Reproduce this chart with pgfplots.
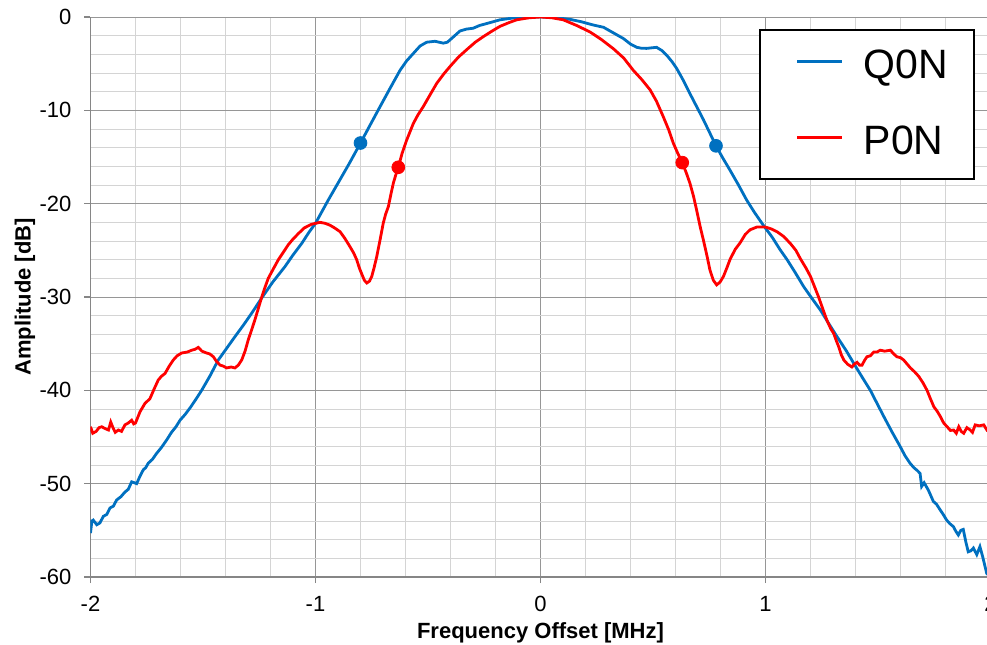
\documentclass[border=0pt]{standalone}
\usepackage{fontspec}
\setmainfont{Liberation Sans}
\usepackage{pgfplots}
\pgfplotsset{compat=1.18}

\definecolor{qblue}{RGB}{0,112,192}
\definecolor{pred}{RGB}{255,0,0}
\definecolor{axgray}{RGB}{134,134,134}
\definecolor{majgrid}{RGB}{150,150,150}
\definecolor{mingrid}{RGB}{212,212,212}

\begin{document}
\begin{tikzpicture}
\begin{axis}[
    scale only axis,
    width=450pt, height=280pt,
    xmin=-2, xmax=2, ymin=-60, ymax=0,
    xtick={-2,-1,0,1,2},
    ytick={-60,-50,-40,-30,-20,-10,0},
    minor x tick num=4,
    minor y tick num=4,
    grid=both,
    major grid style={draw=majgrid, line width=0.5pt},
    minor grid style={draw=mingrid, line width=0.5pt},
    axis x line*=bottom,
    axis y line*=left,
    axis line style={-, draw=axgray, line width=0.6pt},
    tick style={draw=axgray, line width=0.6pt},
    tick align=outside,
    major tick length=3pt,
    minor tick length=0pt,
    /pgf/number format/assume math mode=true,
    tick label style={font=\fontsize{11}{13}\selectfont},
    yticklabel style={xshift=-3pt},
    xticklabel style={yshift=-3pt},
    xlabel={Frequency Offset [MHz]},
    ylabel={Amplitude [dB]},
    label style={font=\fontsize{11}{13}\selectfont\bfseries},
    xlabel style={at={(axis description cs:0.5,0)}, anchor=center, yshift=-28pt},
    ylabel style={at={(axis description cs:0,0.5)}, anchor=center, yshift=32.75pt},
    legend cell align=left,
    legend style={at={(rel axis cs:0.7428,0.9786)}, anchor=north west,
        draw=black, line width=0.9pt, fill=white,
        inner xsep=13pt, inner ysep=6.25pt,
        column sep=10pt, row sep=14pt,
        cells={anchor=base west},
        nodes={inner sep=0pt, text height=18.25pt, text depth=5.75pt},
        font=\fontsize{20.5}{24}\selectfont},
    legend image code/.code={\path (0pt,0pt); \draw[#1, line width=1.4pt] (5pt,8.5pt) -- (27.5pt,8.5pt);},
]
% Q0N
\addplot[qblue, line width=1.4pt] coordinates {
(-2.000,-55.3) (-1.994,-54.0) (-1.988,-53.9) (-1.972,-54.4) (-1.958,-54.2) (-1.943,-53.5)
(-1.928,-53.3) (-1.913,-52.6) (-1.898,-52.4) (-1.884,-51.75) (-1.865,-51.4) (-1.847,-50.9)
(-1.832,-50.6) (-1.817,-49.8) (-1.805,-49.9) (-1.795,-50.0) (-1.780,-49.2) (-1.765,-48.5)
(-1.755,-48.3) (-1.743,-47.8) (-1.725,-47.4) (-1.706,-46.75) (-1.684,-46.1) (-1.661,-45.3)
(-1.640,-44.5) (-1.620,-43.9) (-1.602,-43.2) (-1.580,-42.6) (-1.555,-41.8) (-1.530,-40.9)
(-1.506,-40.0) (-1.470,-38.5) (-1.432,-36.75) (-1.395,-35.5) (-1.358,-34.25) (-1.320,-33.0)
(-1.284,-31.75) (-1.239,-30.1) (-1.190,-28.4) (-1.136,-26.75) (-1.100,-25.5) (-1.061,-24.25)
(-1.030,-23.1) (-1.000,-22.1) (-0.943,-19.6) (-0.900,-17.8) (-0.850,-15.7) (-0.800,-13.5)
(-0.760,-11.7) (-0.713,-9.6) (-0.670,-7.7) (-0.624,-5.7) (-0.595,-4.7) (-0.565,-3.9)
(-0.535,-3.1) (-0.506,-2.7) (-0.469,-2.6) (-0.432,-2.8) (-0.414,-2.7) (-0.395,-2.3)
(-0.358,-1.5) (-0.330,-1.3) (-0.299,-1.2) (-0.270,-0.9) (-0.239,-0.7) (-0.180,-0.3)
(-0.106,-0.05) (0,0) (0.060,-0.05) (0.131,-0.25) (0.180,-0.5) (0.235,-0.86) (0.280,-1.1)
(0.324,-1.7) (0.368,-2.3) (0.400,-2.9) (0.428,-3.25) (0.450,-3.35) (0.472,-3.36) (0.495,-3.3)
(0.516,-3.25) (0.540,-3.6) (0.561,-4.1) (0.585,-4.8) (0.605,-5.5) (0.635,-6.8) (0.664,-8.2)
(0.694,-9.6) (0.724,-11.0) (0.752,-12.4) (0.780,-13.8) (0.810,-15.1) (0.842,-16.4)
(0.880,-18.0) (0.916,-19.6) (0.950,-20.9) (0.990,-22.3) (1.030,-23.6) (1.064,-24.9)
(1.096,-26.0) (1.130,-27.3) (1.170,-28.9) (1.205,-30.1) (1.244,-31.4) (1.280,-32.8)
(1.318,-34.25) (1.360,-35.8) (1.402,-37.5) (1.435,-38.8) (1.466,-40.0) (1.500,-41.6)
(1.530,-43.0) (1.561,-44.4) (1.598,-46.0) (1.620,-47.0) (1.642,-47.8) (1.660,-48.3)
(1.675,-48.6) (1.687,-48.9) (1.694,-50.3) (1.705,-49.9) (1.724,-50.7) (1.746,-51.9)
(1.760,-52.2) (1.776,-52.8) (1.790,-53.3) (1.805,-53.9) (1.820,-54.3) (1.835,-54.6)
(1.846,-55.1) (1.857,-55.5) (1.868,-55.0) (1.879,-54.9) (1.890,-56.2) (1.901,-57.3)
(1.912,-57.2) (1.924,-56.9) (1.939,-57.6) (1.953,-56.75) (1.965,-57.8) (1.975,-58.8)
(1.983,-59.6) (2.000,-60.0)
};
\addlegendentry{Q0N}
% P0N
\addplot[pred, line width=1.4pt] coordinates {
(-2.000,-43.9) (-1.990,-44.6) (-1.975,-44.4) (-1.962,-44.0) (-1.950,-43.9) (-1.935,-44.1)
(-1.920,-44.25) (-1.910,-43.4) (-1.900,-44.0) (-1.890,-44.5) (-1.876,-44.25) (-1.862,-44.4)
(-1.847,-43.7) (-1.832,-43.5) (-1.817,-43.2) (-1.808,-43.6) (-1.800,-43.5) (-1.780,-42.3)
(-1.758,-41.4) (-1.736,-40.9) (-1.718,-39.9) (-1.699,-38.9) (-1.685,-38.5) (-1.669,-38.2)
(-1.650,-37.4) (-1.632,-36.75) (-1.615,-36.3) (-1.595,-36.0) (-1.570,-35.9) (-1.550,-35.7)
(-1.535,-35.6) (-1.521,-35.4) (-1.505,-35.8) (-1.484,-36.0) (-1.470,-36.1) (-1.454,-36.4)
(-1.440,-36.9) (-1.424,-37.3) (-1.410,-37.4) (-1.395,-37.6) (-1.375,-37.5) (-1.358,-37.6)
(-1.343,-37.3) (-1.328,-36.75) (-1.313,-35.8) (-1.299,-34.6) (-1.285,-33.6) (-1.270,-32.5)
(-1.255,-31.3) (-1.239,-30.0) (-1.225,-29.0) (-1.210,-28.0) (-1.190,-27.1) (-1.165,-26.0)
(-1.140,-25.1) (-1.121,-24.4) (-1.100,-23.8) (-1.076,-23.2) (-1.050,-22.6) (-1.017,-22.2)
(-0.980,-22.0) (-0.958,-22.1) (-0.936,-22.3) (-0.915,-22.6) (-0.891,-23.0) (-0.870,-23.7)
(-0.847,-24.6) (-0.830,-25.3) (-0.817,-26.0) (-0.805,-26.9) (-0.795,-27.5) (-0.783,-28.2)
(-0.772,-28.5) (-0.760,-28.3) (-0.750,-27.8) (-0.740,-26.9) (-0.728,-25.7) (-0.714,-24.0)
(-0.699,-22.1) (-0.688,-21.1) (-0.676,-20.3) (-0.665,-19.0) (-0.654,-17.8) (-0.643,-16.9)
(-0.632,-16.1) (-0.615,-14.6) (-0.595,-13.2) (-0.580,-12.3) (-0.565,-11.4) (-0.545,-10.5)
(-0.521,-9.6) (-0.490,-8.3) (-0.461,-7.1) (-0.430,-6.1) (-0.402,-5.3) (-0.365,-4.3)
(-0.328,-3.5) (-0.290,-2.7) (-0.254,-2.1) (-0.215,-1.5) (-0.180,-1.0) (-0.140,-0.6)
(-0.106,-0.3) (-0.050,-0.08) (0,0) (0.050,-0.08) (0.101,-0.3) (0.160,-0.9) (0.220,-1.6)
(0.270,-2.4) (0.324,-3.4) (0.370,-4.4) (0.412,-5.7) (0.450,-6.7) (0.487,-7.8) (0.515,-9.0)
(0.546,-10.7) (0.570,-12.1) (0.590,-13.5) (0.610,-14.6) (0.630,-15.6) (0.648,-16.7)
(0.664,-17.8) (0.680,-19.2) (0.694,-20.7) (0.710,-22.5) (0.724,-23.9) (0.740,-25.6)
(0.753,-27.1) (0.768,-28.2) (0.783,-28.7) (0.798,-28.4) (0.813,-27.8) (0.828,-26.9)
(0.842,-26.0) (0.865,-24.9) (0.887,-24.2) (0.910,-23.3) (0.931,-22.8) (0.962,-22.5)
(0.999,-22.5) (1.025,-22.7) (1.051,-23.0) (1.080,-23.5) (1.110,-24.25) (1.135,-25.0)
(1.155,-25.9) (1.180,-26.9) (1.200,-27.8) (1.218,-28.9) (1.236,-30.0) (1.255,-31.3)
(1.273,-32.5) (1.290,-33.4) (1.303,-33.9) (1.315,-34.7) (1.325,-35.3) (1.337,-36.2)
(1.348,-36.75) (1.365,-37.2) (1.384,-37.5) (1.395,-37.2) (1.407,-37.0) (1.418,-37.3)
(1.429,-37.3) (1.440,-36.8) (1.451,-36.4) (1.466,-36.3) (1.481,-35.9) (1.495,-35.9)
(1.510,-35.7) (1.530,-35.8) (1.555,-35.7) (1.570,-36.1) (1.584,-36.4) (1.600,-36.5)
(1.614,-36.75) (1.630,-37.2) (1.644,-37.6) (1.662,-38.0) (1.681,-38.5) (1.700,-39.2)
(1.718,-40.0) (1.733,-40.9) (1.748,-41.75) (1.762,-42.2) (1.777,-42.8) (1.792,-43.5)
(1.807,-43.9) (1.822,-44.3) (1.836,-44.25) (1.848,-44.6) (1.859,-43.9) (1.870,-44.4)
(1.881,-44.6) (1.895,-44.0) (1.910,-44.25) (1.920,-44.5) (1.932,-43.7) (1.950,-43.8)
(1.970,-43.7) (1.984,-44.25) (2.000,-44.0)
};
\addlegendentry{P0N}
% marked points
\addplot[only marks, mark=*, mark size=3.2pt, color=qblue, forget plot] coordinates {(-0.800,-13.5) (0.780,-13.8)};
\addplot[only marks, mark=*, mark size=3.2pt, color=pred, forget plot] coordinates {(-0.632,-16.1) (0.630,-15.6)};
\end{axis}
\pgfresetboundingbox
\useasboundingbox (-45.25pt,-33.5pt) rectangle (448.25pt,288.5pt);
\end{tikzpicture}
\end{document}
